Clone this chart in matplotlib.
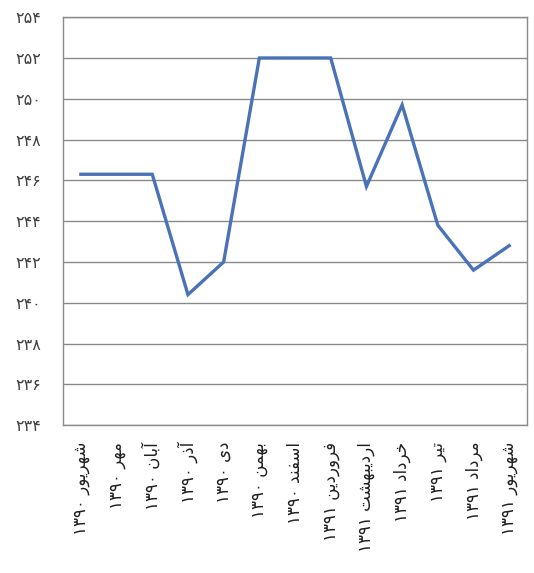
import matplotlib
matplotlib.use("Agg")
import matplotlib.pyplot as plt

# monthly values
months = ["شهریور", "مهر", "آبان", "آذر", "دی", "بهمن", "اسفند",
          "فروردین", "اردیبهشت", "خرداد", "تیر", "مرداد", "شهریور"]
years = ["۱۳۹۰"] * 7 + ["۱۳۹۱"] * 6
values = [246.3, 246.3, 246.3, 240.4, 242.0, 252.0, 252.0,
          252.0, 245.7, 249.7, 243.8, 241.6, 242.8]
yticks = [234, 236, 238, 240, 242, 244, 246, 248, 250, 252, 254]

# minimal arabic shaping: (isolated, final, initial, medial)
FORMS = {
    "ا": ("\uFE8D", "\uFE8E", None, None),
    "آ": ("\uFE81", "\uFE82", None, None),
    "ب": ("\uFE8F", "\uFE90", "\uFE91", "\uFE92"),
    "ت": ("\uFE95", "\uFE96", "\uFE97", "\uFE98"),
    "خ": ("\uFEA5", "\uFEA6", "\uFEA7", "\uFEA8"),
    "د": ("\uFEA9", "\uFEAA", None, None),
    "ذ": ("\uFEAB", "\uFEAC", None, None),
    "ر": ("\uFEAD", "\uFEAE", None, None),
    "س": ("\uFEB1", "\uFEB2", "\uFEB3", "\uFEB4"),
    "ش": ("\uFEB5", "\uFEB6", "\uFEB7", "\uFEB8"),
    "ف": ("\uFED1", "\uFED2", "\uFED3", "\uFED4"),
    "م": ("\uFEE1", "\uFEE2", "\uFEE3", "\uFEE4"),
    "ن": ("\uFEE5", "\uFEE6", "\uFEE7", "\uFEE8"),
    "ه": ("\uFEE9", "\uFEEA", "\uFEEB", "\uFEEC"),
    "و": ("\uFEED", "\uFEEE", None, None),
    "ی": ("\uFEEF", "\uFEF0", "\uFEF3", "\uFEF4"),
}


def shape_word(word):
    out = []
    for i, ch in enumerate(word):
        f = FORMS.get(ch)
        if f is None:
            out.append(ch)
            continue
        prev = FORMS.get(word[i - 1]) if i > 0 else None
        nxt = FORMS.get(word[i + 1]) if i + 1 < len(word) else None
        join_prev = prev is not None and prev[2] is not None
        join_next = nxt is not None and f[2] is not None
        if join_prev and join_next:
            out.append(f[3])
        elif join_prev:
            out.append(f[1])
        elif join_next:
            out.append(f[2])
        else:
            out.append(f[0])
    return "".join(reversed(out))


labels = [y + " " + shape_word(m) for m, y in zip(months, years)]
fa_digits = str.maketrans("0123456789", "۰۱۲۳۴۵۶۷۸۹")
ylabels = [str(v).translate(fa_digits) for v in yticks]

fig = plt.figure(figsize=(5.34, 5.73), dpi=100)
ax = fig.add_axes([0.118, 0.258, 0.869, 0.712])

x = list(range(len(values)))
ax.plot(x, values, color="#4a72b8", linewidth=2.4, solid_joinstyle="miter")

ax.set_xlim(-0.5, len(values) - 0.5)
ax.set_ylim(234, 254)
ax.set_yticks(yticks)
ax.set_yticklabels(ylabels, fontsize=11.5, color="#404040", family="DejaVu Sans")
ax.set_xticks(x)
ax.set_xticklabels(labels, rotation=90, fontsize=12, color="#202020",
                   family="DejaVu Sans", va="top", ha="center")
ax.tick_params(axis="both", length=0)
ax.tick_params(axis="y", pad=16)
ax.tick_params(axis="x", pad=12)
ax.grid(axis="y", color="#8a8a8a", linewidth=1)
ax.set_axisbelow(True)
for s in ax.spines.values():
    s.set_color("#8a8a8a")
    s.set_linewidth(1)

fig.savefig("out.png", dpi=100)
